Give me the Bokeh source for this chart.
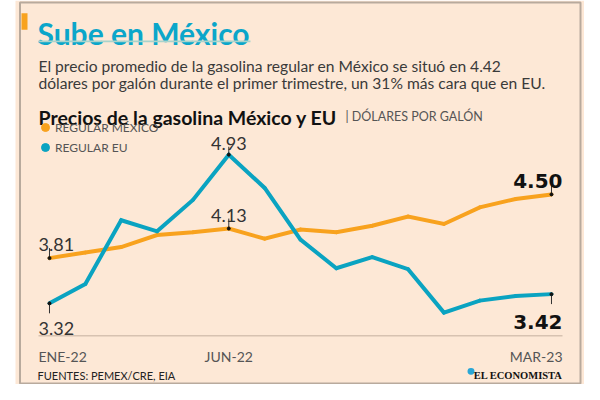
from bokeh.plotting import figure
from bokeh.models import Range1d, Label, BoxAnnotation, Legend, LegendItem
from bokeh.embed import file_html
from bokeh.resources import INLINE

# ---------------- data ----------------
months = ["ENE-22", "FEB-22", "MAR-22", "ABR-22", "MAY-22", "JUN-22", "JUL-22",
          "AGO-22", "SEP-22", "OCT-22", "NOV-22", "DIC-22", "ENE-23", "FEB-23", "MAR-23"]
regular_mexico = [3.81, 3.87, 3.93, 4.06, 4.09, 4.13, 4.02, 4.12, 4.09, 4.16, 4.26, 4.18, 4.36, 4.45, 4.50]
regular_eu = [3.32, 3.53, 4.22, 4.10, 4.44, 4.93, 4.57, 4.01, 3.70, 3.82, 3.69, 3.22, 3.35, 3.40, 3.42]
tick_positions = [0, 5, 14]
tick_labels = ["ENE-22", "JUN-22", "MAR-23"]
series_names = ["REGULAR MÉXICO", "REGULAR EU"]
title_text = "Sube en México"
subtitle_lines = ["El precio promedio de la gasolina regular en México se situó en 4.42",
                  "dólares por galón durante el primer trimestre, un 31% más cara que en EU."]
chart_title = "Precios de la gasolina México y EU"
chart_unit = "|  DÓLARES POR GALÓN"
source_text = "FUENTES: PEMEX/CRE, EIA"
brand_text = "EL ECONOMISTA"

# ---------------- style ----------------
W, H = 584, 384
PEACH = "#FDE8D6"
ORANGE = "#F8A21E"
BLUE = "#0AA3C1"
TITLE_BLUE = "#0BA6CA"
FONT = "Lato"

idx = list(range(len(months)))


def sx(X):  # layout x in pixels
    return X


def fy(Y):  # layout y (from top, slightly compressed) -> screen y from bottom
    return H - (1 + (Y - 3) * 0.972)


SCR = dict(left_units="screen", right_units="screen", bottom_units="screen", top_units="screen")

p = figure(width=W, height=H, output_backend="svg", toolbar_location=None,
           x_axis_type=None, y_axis_type=None,
           x_range=Range1d(-1.3665, 14.9204), y_range=Range1d(2.4413, 6.5998),
           min_border=0, outline_line_color=None,
           background_fill_color="white", border_fill_color="white")

# panel background and frame
p.add_layout(BoxAnnotation(left=sx(15), right=sx(584), bottom=0, top=H, **SCR,
                           fill_color=PEACH, fill_alpha=1, line_color=None, level="underlay"))
p.add_layout(BoxAnnotation(left=sx(19.5), right=sx(580), bottom=fy(396), top=fy(4), **SCR,
                           fill_alpha=0, line_color="#1a1a1a", line_width=2, level="underlay"))
# orange accent
p.add_layout(BoxAnnotation(left=sx(21), right=sx(27), top=fy(15), bottom=fy(32), **SCR,
                           fill_color=ORANGE, fill_alpha=1, line_color=None))
# title
p.add_layout(Label(x=sx(37), y=fy(35), x_units="screen", y_units="screen", text=title_text,
                   text_font=FONT, text_font_style="bold", text_font_size="30px",
                   text_color=TITLE_BLUE, text_baseline="alphabetic"))
p.add_layout(BoxAnnotation(left=sx(38), right=sx(250), top=fy(43), bottom=fy(45), **SCR,
                           fill_color="#A9D3CC", fill_alpha=1, line_color=None))
# subtitle
for i, line in enumerate(subtitle_lines):
    p.add_layout(Label(x=sx(38), y=fy(69 + 18 * i), x_units="screen", y_units="screen", text=line,
                       text_font=FONT, text_font_size="15.6px", text_color="#3a3a3a",
                       text_baseline="alphabetic"))
# chart title
p.add_layout(Label(x=sx(38), y=fy(122), x_units="screen", y_units="screen", text=chart_title,
                   text_font=FONT, text_font_style="bold", text_font_size="19.5px",
                   text_color="#111111", text_baseline="alphabetic"))
p.add_layout(Label(x=sx(345), y=fy(121), x_units="screen", y_units="screen", text=chart_unit,
                   text_font=FONT, text_font_size="12.5px", text_color="#555555",
                   text_baseline="alphabetic"))

# series
dots_mx = p.scatter(idx, regular_mexico, size=3, color=ORANGE)
dots_eu = p.scatter(idx, regular_eu, size=3, color=BLUE)
p.line(idx, regular_mexico, line_width=4, line_color=ORANGE, line_join="miter")
p.line(idx, regular_eu, line_width=4, line_color=BLUE, line_join="miter")

# legend
legend = Legend(items=[LegendItem(label=series_names[0], renderers=[dots_mx]),
                       LegendItem(label=series_names[1], renderers=[dots_eu])],
                location=(sx(45) - 10, fy(164)), orientation="vertical",
                padding=0, margin=0, spacing=0, glyph_width=20, glyph_height=20,
                label_height=20, label_standoff=0, border_line_color=None,
                background_fill_alpha=0, label_text_font=FONT,
                label_text_font_size="12px", label_text_color="#555555")
p.add_layout(legend)

# value callouts
callouts = [
    # (series, index, align, x_off, y_off, tick_dir, tick_scale, bold)
    (regular_mexico, 0, "left", -11, 14, 1, 1.0, False),
    (regular_eu, 0, "left", -11, -25, -1, 1.0, False),
    (regular_eu, 5, "center", 0, 11, 1, 0.8, False),
    (regular_mexico, 5, "center", 0, 13, 1, 1.0, False),
    (regular_mexico, 14, "right", 11, 13, 1, 1.1, True),
    (regular_eu, 14, "right", 11, -28, -1, 1.0, True),
]
tick_len = 0.108
x0s, y0s, y1s = [], [], []
for series, i, align, xo, yo, d, ts, bold in callouts:
    x0s.append(idx[i])
    y0s.append(series[i])
    y1s.append(series[i] + d * tick_len * ts)
    p.add_layout(Label(x=idx[i], y=series[i], x_offset=xo, y_offset=yo, text=f"{series[i]:.2f}",
                       text_align=align, text_baseline="alphabetic",
                       text_font="DejaVu Sans" if bold else FONT,
                       text_font_style="bold" if bold else "normal",
                       text_font_size="20px" if bold else "18px",
                       text_color="#111111" if bold else "#333333"))
p.segment(x0=x0s, y0=y0s, x1=x0s, y1=y1s, line_color="#333333", line_width=1)
p.scatter(x0s, y0s, size=3, color="#111111")

# baseline rule
p.add_layout(BoxAnnotation(left=sx(38), right=sx(562), top=fy(346.5), bottom=fy(347.5), **SCR,
                           fill_color="#B29C8C", fill_alpha=1, line_color=None))
# x tick labels
aligns = {0: ("left", -11), 5: ("center", 0), 14: ("right", 11)}
for pos, lab in zip(tick_positions, tick_labels):
    a, xo = aligns[pos]
    p.add_layout(Label(x=pos, y=fy(368), x_units="data", y_units="screen", x_offset=xo,
                       text=lab, text_align=a, text_baseline="alphabetic",
                       text_font=FONT, text_font_size="14px", text_color="#555555"))

# footer
p.add_layout(Label(x=sx(37), y=fy(388), x_units="screen", y_units="screen", text=source_text,
                   text_font=FONT, text_font_size="11px", text_color="#222222",
                   text_baseline="alphabetic"))
p.add_layout(BoxAnnotation(left=sx(467), right=sx(474), top=fy(380), bottom=fy(387), **SCR,
                           fill_color="#2AA7D6", fill_alpha=1, line_color=None, border_radius=4))
p.add_layout(Label(x=sx(562), y=fy(388), x_units="screen", y_units="screen", text=brand_text,
                   text_font="Liberation Serif", text_font_style="bold", text_font_size="10.5px",
                   text_color="#111111", text_align="right", text_baseline="alphabetic"))

open("out.html", "w").write(file_html(p, INLINE))
